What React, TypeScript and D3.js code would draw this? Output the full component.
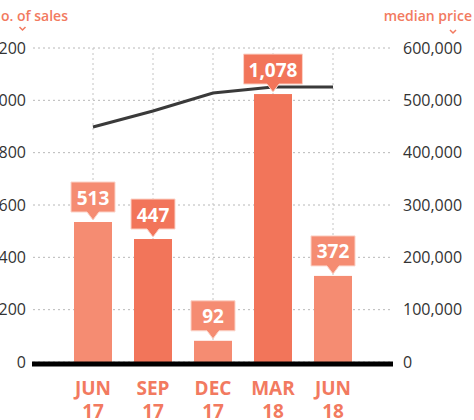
import * as d3 from "d3";

const periods = ["JUN 17", "SEP 17", "DEC 17", "MAR 18", "JUN 18"];
// bar heights as drawn, and the callout values as printed
const salesBars = [535, 470, 81, 1024, 329];
const salesLabels = ["513", "447", "92", "1,078", "372"];
const medianPrice = [449000, 479600, 514000, 525500, 525500];
const leftTicks = [0, 200, 400, 600, 800, 1000, 1200];
const rightTicks = [0, 100000, 200000, 300000, 400000, 500000, 600000];

const W = 474;
const H = 420;
const light = "#f58c72";
const dark = "#f2755a";
const accent = "#f27a60";
const font = "'Open Sans', 'Segoe UI', sans-serif";

const measure = (text: string, f: string) => {
  const ctx = document.createElement("canvas").getContext("2d");
  if (!ctx) return text.length * 10;
  ctx.font = f;
  return ctx.measureText(text).width;
};

export default function App() {
  const x = d3.scalePoint<string>().domain(periods).range([33, 393]).padding(1);
  const yL = d3.scaleLinear().domain([0, 1200]).range([362, 48]);
  const yR = d3.scaleLinear().domain([0, 600000]).range([362, 48]);
  const fmt = d3.format(",");
  const barW = 38;

  const line = d3
    .line<number>()
    .x((_, i) => x(periods[i]) as number)
    .y((d) => yR(d));

  return (
    <svg
      width={W}
      height={H}
      style={{ position: "absolute", left: 0, top: 0, fontFamily: font }}
    >
      <rect width={W} height={H} fill="#fff" />
      {/* horizontal grid */}
      {leftTicks.map((t) => (
        <line
          key={"h" + t}
          x1={33}
          x2={393}
          y1={yL(t)}
          y2={yL(t)}
          stroke="#b8b8b8"
          strokeDasharray="2,3"
        />
      ))}
      {/* vertical grid */}
      {periods.map((p) => (
        <line
          key={"v" + p}
          x1={x(p)}
          x2={x(p)}
          y1={yL(1200)}
          y2={yL(0)}
          stroke="#c4c4c4"
          strokeDasharray="2,3"
        />
      ))}
      {/* left axis labels */}
      {leftTicks.map((t) => (
        <text key={"l" + t} x={26} y={yL(t)} dy="0.36em" textAnchor="end" fontSize={16} fill="#333">
          {fmt(t)}
        </text>
      ))}
      {/* right axis labels */}
      {rightTicks.map((t) => (
        <text key={"r" + t} x={403} y={yR(t)} dy="0.36em" fontSize={16} fill="#333">
          {fmt(t)}
        </text>
      ))}
      {/* bars */}
      {salesBars.map((v, i) => (
        <rect
          key={"b" + i}
          x={(x(periods[i]) as number) - barW / 2}
          y={yL(v)}
          width={barW}
          height={yL(0) - yL(v)}
          fill={i % 2 === 0 ? light : dark}
        />
      ))}
      {/* baseline */}
      <line x1={32} x2={393} y1={364} y2={364} stroke="#000" strokeWidth={5} />
      {/* median price line */}
      <path d={line(medianPrice) || ""} fill="none" stroke="#3a3a3a" strokeWidth={3} />
      {/* callouts */}
      {salesBars.map((v, i) => {
        const cx = x(periods[i]) as number;
        const tip = yL(v) - 2;
        const bottom = tip - 8;
        const top = bottom - 30;
        const tw = measure(salesLabels[i], `bold 19px ${font}`);
        const bw = Math.max(44, tw + 10);
        const fill = i % 2 === 0 ? light : dark;
        const path = `M${cx - bw / 2},${top}H${cx + bw / 2}V${bottom}H${cx + 6}L${cx},${tip}L${cx - 6},${bottom}H${cx - bw / 2}Z`;
        return (
          <g key={"c" + i}>
            <path d={path} fill={fill} stroke="#fbd3c8" strokeWidth={1} />
            <text
              x={cx}
              y={bottom - 7.5}
              textAnchor="middle"
              fontSize={19}
              fontWeight="bold"
              fill="#fff"
            >
              {salesLabels[i]}
            </text>
          </g>
        );
      })}
      {/* x labels */}
      {periods.map((p) => (
        <text key={"x" + p} x={x(p)} textAnchor="middle" fontSize={19} fontWeight="bold" fill={accent}>
          <tspan x={x(p)} y={395}>
            {p.split(" ")[0]}
          </tspan>
          <tspan x={x(p)} y={418}>
            {p.split(" ")[1]}
          </tspan>
        </text>
      ))}
      {/* axis titles */}
      <text x={-10} y={21} fontSize={14} fontWeight={600} fill={accent}>
        No. of sales
      </text>
      <path d="M19.5,27 L22.5,30 L25.5,27" fill="none" stroke={accent} strokeWidth={1.5} />
      <text x={472} y={21} textAnchor="end" fontSize={14} fontWeight={600} fill={accent}>
        median price
      </text>
      <path d="M450,30 L453,33 L456,30" fill="none" stroke={accent} strokeWidth={1.5} />
    </svg>
  );
}
